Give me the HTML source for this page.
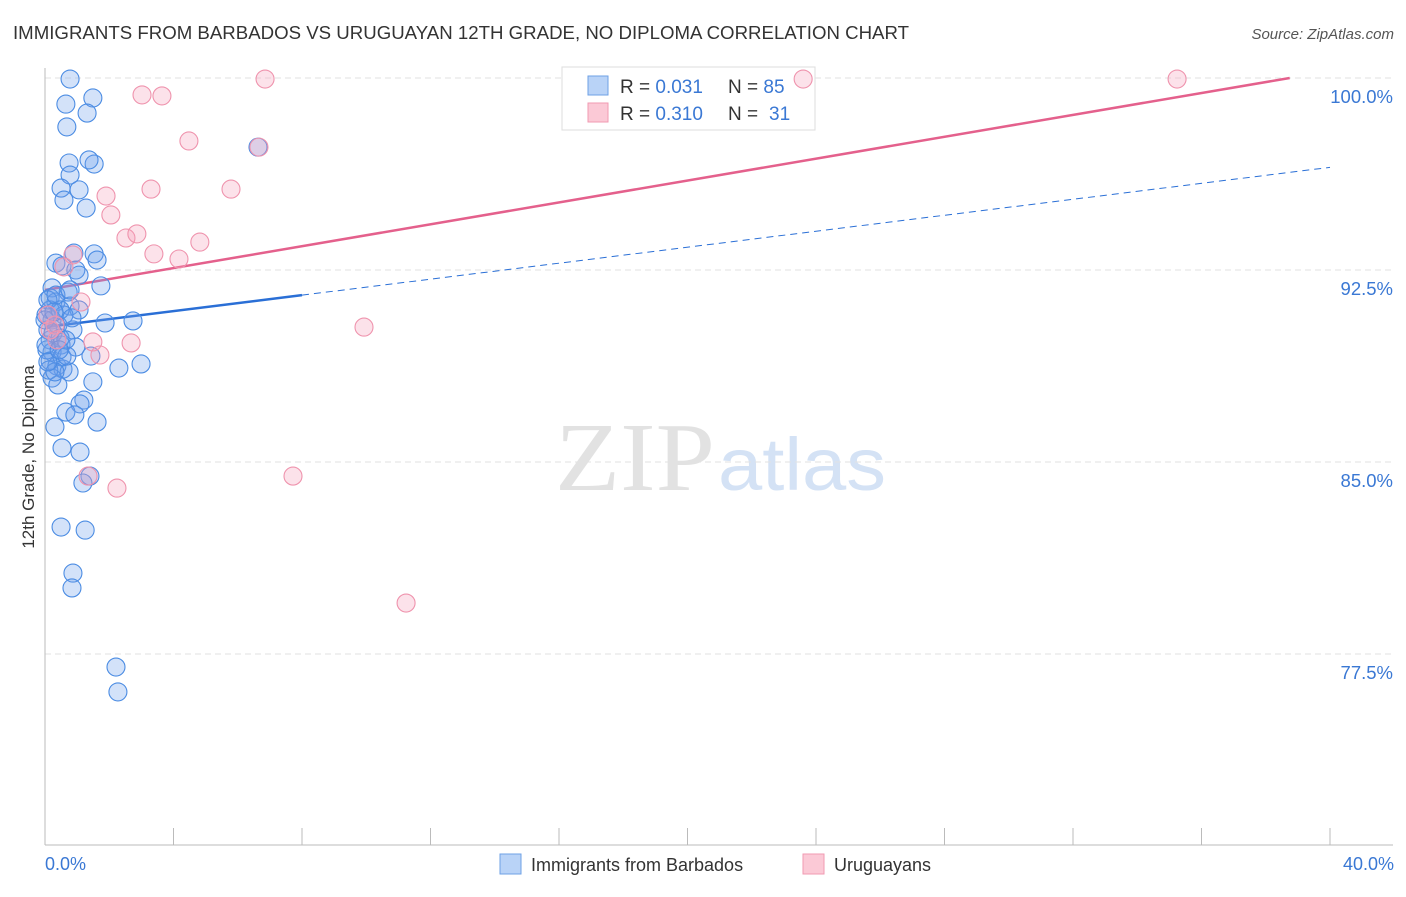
<!DOCTYPE html>
<html><head><meta charset="utf-8"><style>
body{margin:0;background:#fff;font-family:"Liberation Sans",sans-serif;}
</style></head><body>
<svg id="chart" width="1406" height="892" xmlns="http://www.w3.org/2000/svg" font-family="Liberation Sans, sans-serif">
<text x="13" y="39" font-size="18.6" fill="#333" textLength="896" lengthAdjust="spacingAndGlyphs">IMMIGRANTS FROM BARBADOS VS URUGUAYAN 12TH GRADE, NO DIPLOMA CORRELATION CHART</text>
<text x="1394" y="39" font-size="15" fill="#555" text-anchor="end" font-style="italic">Source: ZipAtlas.com</text>
<text x="555" y="490" font-size="98" fill="#e2e2e2" font-family="Liberation Serif, serif" textLength="160" lengthAdjust="spacingAndGlyphs">ZIP</text>
<text x="718" y="490" font-size="74" fill="#d4e2f5" textLength="168" lengthAdjust="spacingAndGlyphs">atlas</text>
<g id="grid"></g>
<g id="axes"></g>
<g>
<rect x="562" y="67" width="253" height="63" fill="#fff" stroke="#ddd"/>
<rect x="588" y="76" width="20" height="19" fill="#b9d3f7" stroke="#6ea0e6"/>
<rect x="588" y="103" width="20" height="19" fill="#fbc9d6" stroke="#f09ab2"/>
<text x="620" y="93" font-size="19" fill="#333">R = <tspan fill="#3a78d4">0.031</tspan></text>
<text x="728" y="93" font-size="19" fill="#333">N = <tspan fill="#3a78d4">85</tspan></text>
<text x="620" y="120" font-size="19" fill="#333">R = <tspan fill="#3a78d4">0.310</tspan></text>
<text x="728" y="120" font-size="19" fill="#333">N = <tspan fill="#3a78d4" x="769">31</tspan></text>
</g>
<g id="lines"></g>
<g id="pts"></g>
<text transform="translate(34,457) rotate(-90)" font-size="17" fill="#333" text-anchor="middle">12th Grade, No Diploma</text>
<text x="45" y="870" font-size="18" fill="#3a78d4">0.0%</text>
<text x="1394" y="870" font-size="18" fill="#3a78d4" text-anchor="end">40.0%</text>
<g>
<rect x="500" y="854" width="21" height="20" fill="#b9d3f7" stroke="#6ea0e6"/>
<text x="531" y="871" font-size="18" fill="#333">Immigrants from Barbados</text>
<rect x="803" y="854" width="21" height="20" fill="#fbc9d6" stroke="#f09ab2"/>
<text x="834" y="871" font-size="18" fill="#333">Uruguayans</text>
</g>
</svg>
<script>
const yTicks=[100,92.5,85,77.5];
const yTickLabels=["100.0%","92.5%","85.0%","77.5%"];
const xTicks=[0,4,8,12,16,20,24,28,32,36,40];
const blueX=[0.78,0.65,1.49,1.31,0.68,0.75,1.53,1.37,0.78,0.50,1.06,0.59,1.28,6.63,0.34,0.90,1.53,1.62,0.53,0.96,1.06,0.22,0.72,1.74,0.16,0.34,0.78,1.06,0.16,0.59,0.22,0.40,0.87,1.87,2.74,0.16,0.50,0.96,0.22,1.43,0.16,0.37,0.56,0.75,2.30,2.99,0.22,0.40,1.49,1.21,1.09,0.65,0.93,1.62,0.31,0.53,1.09,1.40,1.18,0.50,1.25,0.87,0.84,2.21,2.27,0.09,0.03,0.06,0.12,0.25,0.47,0.53,0.31,0.68,0.09,0.47,0.84,0.34,0.78,0.00,0.03,0.09,0.28,0.65,0.44];
const blueY=[99.96,98.98,99.22,98.63,98.09,96.68,96.64,96.80,96.21,95.70,95.63,95.23,94.92,97.30,92.77,93.16,93.13,92.89,92.66,92.50,92.30,91.80,91.64,91.88,91.41,91.25,91.09,90.94,90.94,90.74,90.55,90.35,90.16,90.43,90.51,89.77,89.57,89.49,89.30,89.14,88.95,88.75,88.63,88.52,88.67,88.83,88.28,88.01,88.13,87.42,87.27,86.95,86.84,86.56,86.37,85.55,85.39,84.45,84.18,82.46,82.34,80.66,80.08,76.99,76.02,90.16,90.74,89.38,88.59,90.04,89.84,89.10,88.52,89.14,91.33,90.94,90.63,91.52,91.72,90.55,89.57,88.91,90.86,89.77,89.38];
const pinkX=[3.02,3.64,6.85,23.6,35.24,4.48,6.66,3.30,5.79,1.90,2.05,2.52,2.86,3.39,4.17,4.82,0.87,0.59,1.12,9.93,1.49,2.68,1.71,1.34,2.24,7.72,11.24,0.31,0.16,0.37,0.09];
const pinkY=[99.34,99.30,99.96,99.96,99.96,97.54,97.30,95.66,95.66,95.39,94.65,93.75,93.91,93.13,92.93,93.59,93.09,92.62,91.25,90.27,89.69,89.65,89.18,84.45,83.98,84.45,79.49,90.35,90.16,89.77,90.74];
const blueTrend=[90.27,0.156];
const pinkTrend=[91.72,0.2137];
const NS="http://www.w3.org/2000/svg";
const X=v=>45+v*32.125, Y=v=>78+(100-v)*25.6;
function mk(tag,attrs,parent){const e=document.createElementNS(NS,tag);for(const k in attrs)e.setAttribute(k,attrs[k]);document.getElementById(parent).appendChild(e);return e;}
yTicks.forEach((t,i)=>{
 const g=mk('line',{x1:45,x2:1393,y1:Y(t),y2:Y(t),stroke:'#e2e2e2','stroke-dasharray':'6,4'},'grid');
 
 
 const l=mk('text',{x:1393,y:Y(t)+25,'font-size':18.5,fill:'#3a78d4','text-anchor':'end'},'grid');
 l.textContent=yTickLabels[i];
 
 
});
const ax=mk('line',{x1:45,x2:45,y1:68,y2:845,stroke:'#bbb'},'axes');


const bx=mk('line',{x1:45,x2:1393,y1:845,y2:845,stroke:'#bbb'},'axes');


xTicks.forEach(t=>{const k=mk('line',{x1:X(t),x2:X(t),y1:828,y2:845,stroke:'#bbb'},'axes');
 
 });
function pts(xs,ys,fill,stroke,name){xs.forEach((x,i)=>{const c=mk('circle',{cx:X(x),cy:Y(ys[i]),r:9,fill:fill,stroke:stroke,'stroke-width':1.1},'pts');
 
 });}
pts(blueX,blueY,'rgba(110,160,235,0.3)','#4b8ce3','barbados-point');
pts(pinkX,pinkY,'rgba(245,160,185,0.3)','#ef93ad','uruguayan-point');
const bmax=8;
const b1=mk('line',{x1:X(0),y1:Y(blueTrend[0]),x2:X(bmax),y2:Y(blueTrend[0]+blueTrend[1]*bmax),stroke:'#2a6fd6','stroke-width':2.5},'lines');


const b2=mk('line',{x1:X(bmax),y1:Y(blueTrend[0]+blueTrend[1]*bmax),x2:X(40),y2:Y(blueTrend[0]+blueTrend[1]*40),stroke:'#2a6fd6','stroke-width':1,'stroke-dasharray':'7,5'},'lines');


const pend=(100-pinkTrend[0])/pinkTrend[1];
const p1=mk('line',{x1:X(0),y1:Y(pinkTrend[0]),x2:X(pend),y2:Y(100),stroke:'#e4608c','stroke-width':2.5},'lines');


</script>
</body></html>
